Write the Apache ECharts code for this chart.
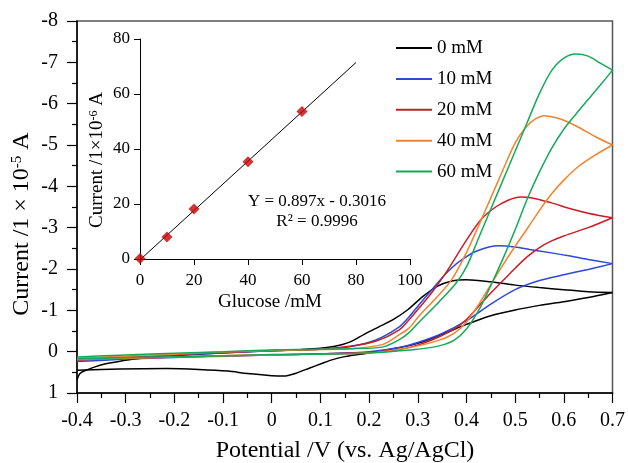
<!DOCTYPE html>
<html>
<head>
<meta charset="utf-8">
<script src="https://cdn.jsdelivr.net/npm/echarts@6/dist/echarts.min.js"></script>
<style>
html,body{margin:0;padding:0;background:#fff;}
#chart{width:628px;height:463px;}
</style>
</head>
<body>
<div id="chart"></div>
<script>
// ---------- Data ----------
const seriesNames = ['0 mM', '10 mM', '20 mM', '40 mM', '60 mM'];
const seriesColors = ['#000000', '#2f48dc', '#c81e24', '#f5822c', '#16aa58'];

// CV curves: [potential (V), current (1e-5 A)], forward and reverse sweeps
const cv0Fwd = [[-0.400,0.68],[-0.394,0.53],[-0.384,0.46],[-0.347,0.31],[-0.300,0.21],[-0.277,0.17],[-0.210,0.10],[-0.107,0.03],[0.000,-0.02],[0.060,-0.05],[0.100,-0.08],[0.130,-0.13],[0.160,-0.23],[0.190,-0.42],[0.220,-0.60],[0.250,-0.78],[0.280,-1.02],[0.310,-1.33],[0.340,-1.58],[0.370,-1.71],[0.400,-1.74],[0.450,-1.69],[0.500,-1.61],[0.550,-1.55],[0.600,-1.50],[0.650,-1.45],[0.700,-1.43]];
const cv0Rev = [[0.700,-1.43],[0.650,-1.31],[0.600,-1.21],[0.550,-1.12],[0.500,-1.01],[0.450,-0.87],[0.400,-0.66],[0.350,-0.42],[0.300,-0.20],[0.250,-0.07],[0.200,0.03],[0.150,0.12],[0.120,0.21],[0.100,0.30],[0.077,0.40],[0.050,0.52],[0.025,0.59],[0.000,0.58],[-0.050,0.53],[-0.090,0.47],[-0.150,0.43],[-0.216,0.41],[-0.312,0.42],[-0.400,0.45]];

const cv10Fwd = [[-0.400,0.20],[-0.300,0.13],[-0.200,0.08],[-0.100,0.03],[0.000,-0.02],[0.100,-0.06],[0.160,-0.12],[0.215,-0.29],[0.262,-0.60],[0.282,-0.84],[0.303,-1.14],[0.329,-1.50],[0.350,-1.79],[0.370,-2.03],[0.390,-2.22],[0.420,-2.43],[0.466,-2.56],[0.500,-2.53],[0.530,-2.47],[0.575,-2.39],[0.610,-2.32],[0.650,-2.23],[0.700,-2.13]];
const cv10Rev = [[0.700,-2.13],[0.650,-1.99],[0.600,-1.86],[0.550,-1.72],[0.500,-1.50],[0.450,-1.15],[0.400,-0.75],[0.350,-0.44],[0.300,-0.22],[0.262,-0.10],[0.200,0.00],[0.100,0.05],[0.000,0.08],[-0.100,0.11],[-0.200,0.14],[-0.300,0.18],[-0.400,0.24]];

const cv20Fwd = [[-0.400,0.18],[-0.300,0.12],[-0.200,0.07],[-0.100,0.02],[0.000,-0.03],[0.100,-0.06],[0.160,-0.13],[0.215,-0.26],[0.262,-0.53],[0.282,-0.77],[0.303,-1.06],[0.330,-1.45],[0.360,-1.95],[0.400,-2.70],[0.430,-3.20],[0.460,-3.50],[0.487,-3.67],[0.512,-3.74],[0.535,-3.72],[0.575,-3.60],[0.610,-3.47],[0.650,-3.35],[0.700,-3.24]];
const cv20Rev = [[0.700,-3.24],[0.650,-3.00],[0.600,-2.80],[0.575,-2.68],[0.550,-2.52],[0.525,-2.30],[0.500,-2.02],[0.475,-1.72],[0.450,-1.42],[0.425,-1.10],[0.400,-0.78],[0.375,-0.55],[0.344,-0.36],[0.303,-0.17],[0.262,-0.05],[0.200,0.02],[0.100,0.05],[0.000,0.08],[-0.100,0.10],[-0.200,0.13],[-0.300,0.16],[-0.400,0.20]];

const cv40Fwd = [[-0.400,0.16],[-0.300,0.11],[-0.200,0.06],[-0.100,0.01],[0.000,-0.03],[0.100,-0.05],[0.160,-0.07],[0.227,-0.17],[0.262,-0.41],[0.282,-0.57],[0.303,-0.87],[0.340,-1.33],[0.370,-1.75],[0.400,-2.40],[0.425,-3.05],[0.450,-3.72],[0.475,-4.40],[0.500,-5.05],[0.520,-5.40],[0.540,-5.62],[0.560,-5.71],[0.580,-5.67],[0.600,-5.60],[0.630,-5.43],[0.665,-5.20],[0.700,-5.00]];
const cv40Rev = [[0.700,-5.00],[0.665,-4.76],[0.630,-4.48],[0.600,-4.15],[0.575,-3.82],[0.550,-3.42],[0.525,-2.98],[0.500,-2.55],[0.475,-2.10],[0.450,-1.62],[0.425,-1.14],[0.400,-0.72],[0.375,-0.45],[0.344,-0.28],[0.300,-0.14],[0.262,-0.06],[0.200,0.03],[0.100,0.06],[0.000,0.08],[-0.100,0.10],[-0.200,0.13],[-0.300,0.16],[-0.400,0.19]];

const cv60Fwd = [[-0.400,0.13],[-0.300,0.08],[-0.200,0.04],[-0.100,0.00],[0.000,-0.04],[0.100,-0.06],[0.160,-0.07],[0.227,-0.11],[0.262,-0.29],[0.282,-0.46],[0.303,-0.72],[0.344,-1.21],[0.378,-1.65],[0.400,-2.05],[0.425,-2.75],[0.450,-3.45],[0.475,-4.15],[0.500,-4.85],[0.525,-5.55],[0.550,-6.25],[0.575,-6.80],[0.600,-7.10],[0.625,-7.20],[0.650,-7.15],[0.675,-6.98],[0.700,-6.81]];
const cv60Rev = [[0.700,-6.81],[0.675,-6.45],[0.650,-6.10],[0.625,-5.75],[0.600,-5.38],[0.575,-4.92],[0.550,-4.35],[0.525,-3.70],[0.500,-2.95],[0.475,-2.25],[0.450,-1.60],[0.425,-1.00],[0.400,-0.55],[0.375,-0.28],[0.344,-0.14],[0.300,-0.06],[0.262,-0.02],[0.200,0.03],[0.100,0.06],[0.000,0.07],[-0.100,0.10],[-0.200,0.12],[-0.300,0.15],[-0.400,0.17]];

// Inset calibration
const glucoseConc = [0, 10, 20, 40, 60];          // mM
const peakCurrent = [0.2, 8.0, 18.2, 35.4, 53.6]; // 1e-6 A
const fitSlope = 0.897;
const fitIntercept = -0.3016;
const fitRangeX = [0, 80];

const cvPairs = [[cv0Fwd, cv0Rev], [cv10Fwd, cv10Rev], [cv20Fwd, cv20Rev], [cv40Fwd, cv40Rev], [cv60Fwd, cv60Rev]];

// ---------- Chart ----------
const FONT = '"Liberation Serif", "Times New Roman", serif';
const chart = echarts.init(document.getElementById('chart'), null, {renderer: 'canvas'});

const series = [];
cvPairs.forEach((pair, i) => {
  pair.forEach(d => {
    series.push({
      name: seriesNames[i], type: 'line', xAxisIndex: 0, yAxisIndex: 0,
      data: d, symbol: 'none', showSymbol: false, smooth: 0.3,
      lineStyle: {color: seriesColors[i], width: 1.5},
      itemStyle: {color: seriesColors[i]},
      z: 2 + i, clip: true
    });
  });
});
series.push({
  type: 'line', xAxisIndex: 1, yAxisIndex: 1,
  data: fitRangeX.map(x => [x, fitSlope * x + fitIntercept]),
  symbol: 'none', lineStyle: {color: '#000', width: 1}, z: 10
});
series.push({
  type: 'scatter', xAxisIndex: 1, yAxisIndex: 1,
  data: glucoseConc.map((c, i) => [c, peakCurrent[i]]),
  symbol: 'diamond', symbolSize: 11, itemStyle: {color: '#c80000'}, z: 11
});

function mainAxis(extra) {
  return Object.assign({
    type: 'value',
    axisLine: {show: true, onZero: false, lineStyle: {color: '#000', width: 1.5}},
    axisTick: {show: true, length: 10, lineStyle: {color: '#000', width: 1.2}},
    minorTick: {show: true, splitNumber: 2, length: 5, lineStyle: {color: '#000', width: 1.2}},
    splitLine: {show: false}, minorSplitLine: {show: false},
    axisLabel: {color: '#000', fontSize: 20, fontFamily: FONT}
  }, extra);
}
function insetAxis(extra) {
  return Object.assign({
    type: 'value', gridIndex: 1,
    axisLine: {show: true, onZero: false, lineStyle: {color: '#000', width: 1}},
    axisTick: {show: true, length: 6, lineStyle: {color: '#000', width: 1}},
    splitLine: {show: false},
    axisLabel: {color: '#000', fontSize: 17, fontFamily: FONT}
  }, extra);
}

const option = {
  animation: false,
  backgroundColor: '#fff',
  grid: [
    {left: 77, top: 21, width: 537, height: 372, show: true, borderColor: '#555', borderWidth: 1.5, backgroundColor: 'transparent'},
    {left: 140, top: 39, width: 270, height: 220}
  ],
  xAxis: [
    mainAxis({min: -0.4, max: 0.7, interval: 0.1, axisLabel: {color: '#000', fontSize: 20, fontFamily: FONT, margin: 18}}),
    insetAxis({min: 0, max: 100, interval: 20, axisLabel: {color: '#000', fontSize: 17, fontFamily: FONT, margin: 13}})
  ],
  yAxis: [
    mainAxis({min: -8, max: 1, interval: 1, inverse: true, axisLabel: {color: '#000', fontSize: 20, fontFamily: FONT, margin: 19}}),
    insetAxis({min: 0, max: 80, interval: 20, axisLabel: {color: '#000', fontSize: 17, fontFamily: FONT, margin: 10}})
  ],
  legend: {
    data: seriesNames,
    orient: 'vertical', left: 391, top: 33,
    icon: 'rect', itemWidth: 36, itemHeight: 2, itemGap: 10.9,
    textStyle: {color: '#000', fontSize: 19, fontFamily: FONT, lineHeight: 20},
    selectedMode: false
  },
  graphic: [
    {type: 'text', x: 22, y: 224, rotation: Math.PI / 2,
      style: {text: 'Current /1 × 10{sup|-5} A', fill: '#000', font: '24px ' + FONT, align: 'center', verticalAlign: 'middle',
        rich: {sup: {fontSize: 15, fontFamily: FONT, verticalAlign: 'top', fill: '#000'}}}},
    {type: 'text', x: 345, y: 451,
      style: {text: 'Potential /V (vs. Ag/AgCl)', fill: '#000', font: '24px ' + FONT, align: 'center', verticalAlign: 'middle'}},
    {type: 'text', x: 97, y: 160, rotation: Math.PI / 2,
      style: {text: 'Current /1×10{sup|-6} A', fill: '#000', font: '19px ' + FONT, align: 'center', verticalAlign: 'middle',
        rich: {sup: {fontSize: 12, fontFamily: FONT, verticalAlign: 'top', fill: '#000'}}}},
    {type: 'text', x: 270, y: 302,
      style: {text: 'Glucose /mM', fill: '#000', font: '19px ' + FONT, align: 'center', verticalAlign: 'middle'}},
    {type: 'text', x: 317, y: 202,
      style: {text: 'Y = 0.897x - 0.3016', fill: '#000', font: '17px ' + FONT, align: 'center', verticalAlign: 'middle'}},
    {type: 'text', x: 317, y: 222,
      style: {text: 'R² = 0.9996', fill: '#000', font: '17px ' + FONT, align: 'center', verticalAlign: 'middle'}}
  ],
  series: series
};
chart.setOption(option);
</script>
</body>
</html>
